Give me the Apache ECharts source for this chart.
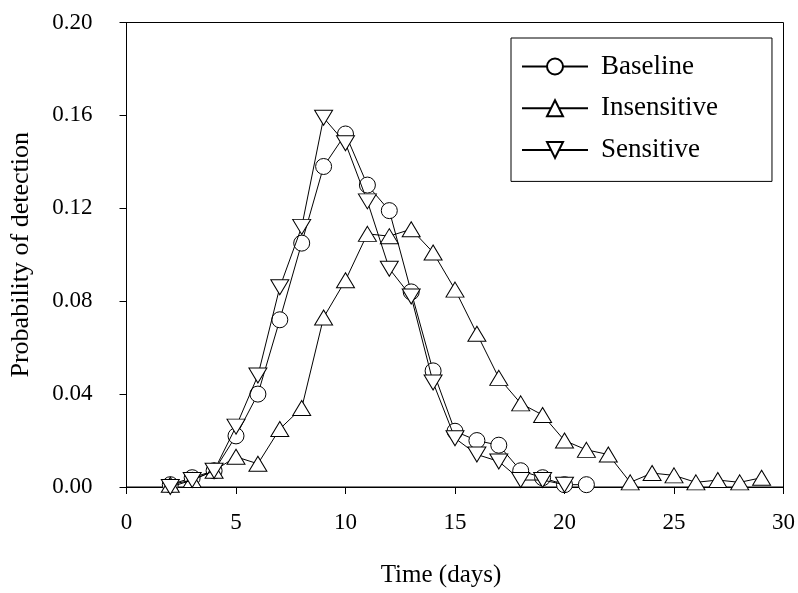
<!DOCTYPE html>
<html>
<head>
<meta charset="utf-8">
<script src="https://cdn.jsdelivr.net/npm/echarts@6/dist/echarts.min.js"></script>
<style>
html,body{margin:0;padding:0;background:#fff;}
#chart{width:798px;height:593px;}
</style>
</head>
<body>
<div id="chart"></div>
<script>
var baselineDays = [2,3,4,5,6,7,8,9,10,11,12,13,14,15,16,17,18,19,20,21];
var baselineValues = [0.001,0.004,0.007,0.022,0.040,0.072,0.105,0.138,0.152,0.130,0.119,0.084,0.050,0.024,0.020,0.018,0.007,0.004,0.001,0.001];

var insensitiveDays = [2,3,4,5,6,7,8,9,10,11,12,13,14,15,16,17,18,19,20,21,22,23,24,25,26,27,28,29];
var insensitiveValues = [0.001,0.003,0.007,0.013,0.010,0.025,0.034,0.073,0.089,0.109,0.108,0.111,0.101,0.085,0.066,0.047,0.036,0.031,0.020,0.016,0.014,0.002,0.006,0.005,0.002,0.003,0.002,0.004];

var sensitiveDays = [2,3,4,5,6,7,8,9,10,11,12,13,14,15,16,17,18,19,20];
var sensitiveValues = [0.000,0.003,0.007,0.026,0.048,0.086,0.112,0.159,0.148,0.123,0.094,0.082,0.045,0.021,0.014,0.011,0.003,0.003,0.001];

var xTicks = [0,5,10,15,20,25,30];
var yTicks = ['0.00','0.04','0.08','0.12','0.16','0.20'];
var seriesNames = ['Baseline','Insensitive','Sensitive'];

function pairs(xs, ys){ return xs.map(function(x,i){ return [x, ys[i]]; }); }

var FONT = 'Liberation Serif';
var markerStyle = {color:'#fff', borderColor:'#000', borderWidth:1};
var lineStyle = {color:'#000', width:1};

var chart = echarts.init(document.getElementById('chart'), null, {renderer:'canvas'});
chart.setOption({
  animation:false,
  backgroundColor:'#fff',
  grid:{left:126.5, right:10.5, top:22.5, bottom:104.7, show:true, borderColor:'#000', borderWidth:1, backgroundColor:'transparent'},
  legend:{
    orient:'vertical', left:511, top:38, 
    padding:[15,54,18,10],
    itemGap:14.7, itemWidth:66, itemHeight:20,
    borderColor:'#000', borderWidth:1,
    textStyle:{fontFamily:FONT, fontSize:27, color:'#000', padding:[0,0,0,8]},
    data:seriesNames
  },
  xAxis:{
    type:'value', min:xTicks[0], max:xTicks[xTicks.length-1], interval:5,
    name:'Time (days)', nameLocation:'middle', nameGap:76,
    nameTextStyle:{fontFamily:FONT, fontSize:25, color:'#000', padding:[0,28,0,0]},
    axisLine:{show:true, onZero:false, lineStyle:{color:'#000', width:1}},
    axisTick:{show:true, inside:false, length:7, lineStyle:{color:'#000'}},
    axisLabel:{fontFamily:FONT, fontSize:23, color:'#000', margin:24},
    splitLine:{show:false}
  },
  yAxis:{
    type:'value', min:0, max:0.2, interval:0.04,
    name:'Probability of detection', nameLocation:'middle', nameGap:92, nameRotate:90,
    nameTextStyle:{fontFamily:FONT, fontSize:26, color:'#000'},
    axisLine:{show:true, lineStyle:{color:'#000', width:1}},
    axisTick:{show:true, inside:false, length:7, lineStyle:{color:'#000'}},
    axisLabel:{fontFamily:FONT, fontSize:23, color:'#000', margin:34,
      formatter:function(v){ var s=v.toFixed(2); return yTicks.indexOf(s)>=0 ? s : ''; }},
    splitLine:{show:false}
  },
  series:[
    {name:seriesNames[0], type:'line', data:pairs(baselineDays, baselineValues),
     symbol:'circle', symbolSize:16, lineStyle:lineStyle, itemStyle:markerStyle, z:2},
    {name:seriesNames[1], type:'line', data:pairs(insensitiveDays, insensitiveValues),
     symbol:'triangle', symbolSize:[18,15], lineStyle:lineStyle, itemStyle:markerStyle, z:3},
    {name:seriesNames[2], type:'line', data:pairs(sensitiveDays, sensitiveValues),
     symbol:'triangle', symbolRotate:180, symbolSize:[18,15], lineStyle:lineStyle, itemStyle:markerStyle, z:4}
  ]
});
</script>
</body>
</html>
